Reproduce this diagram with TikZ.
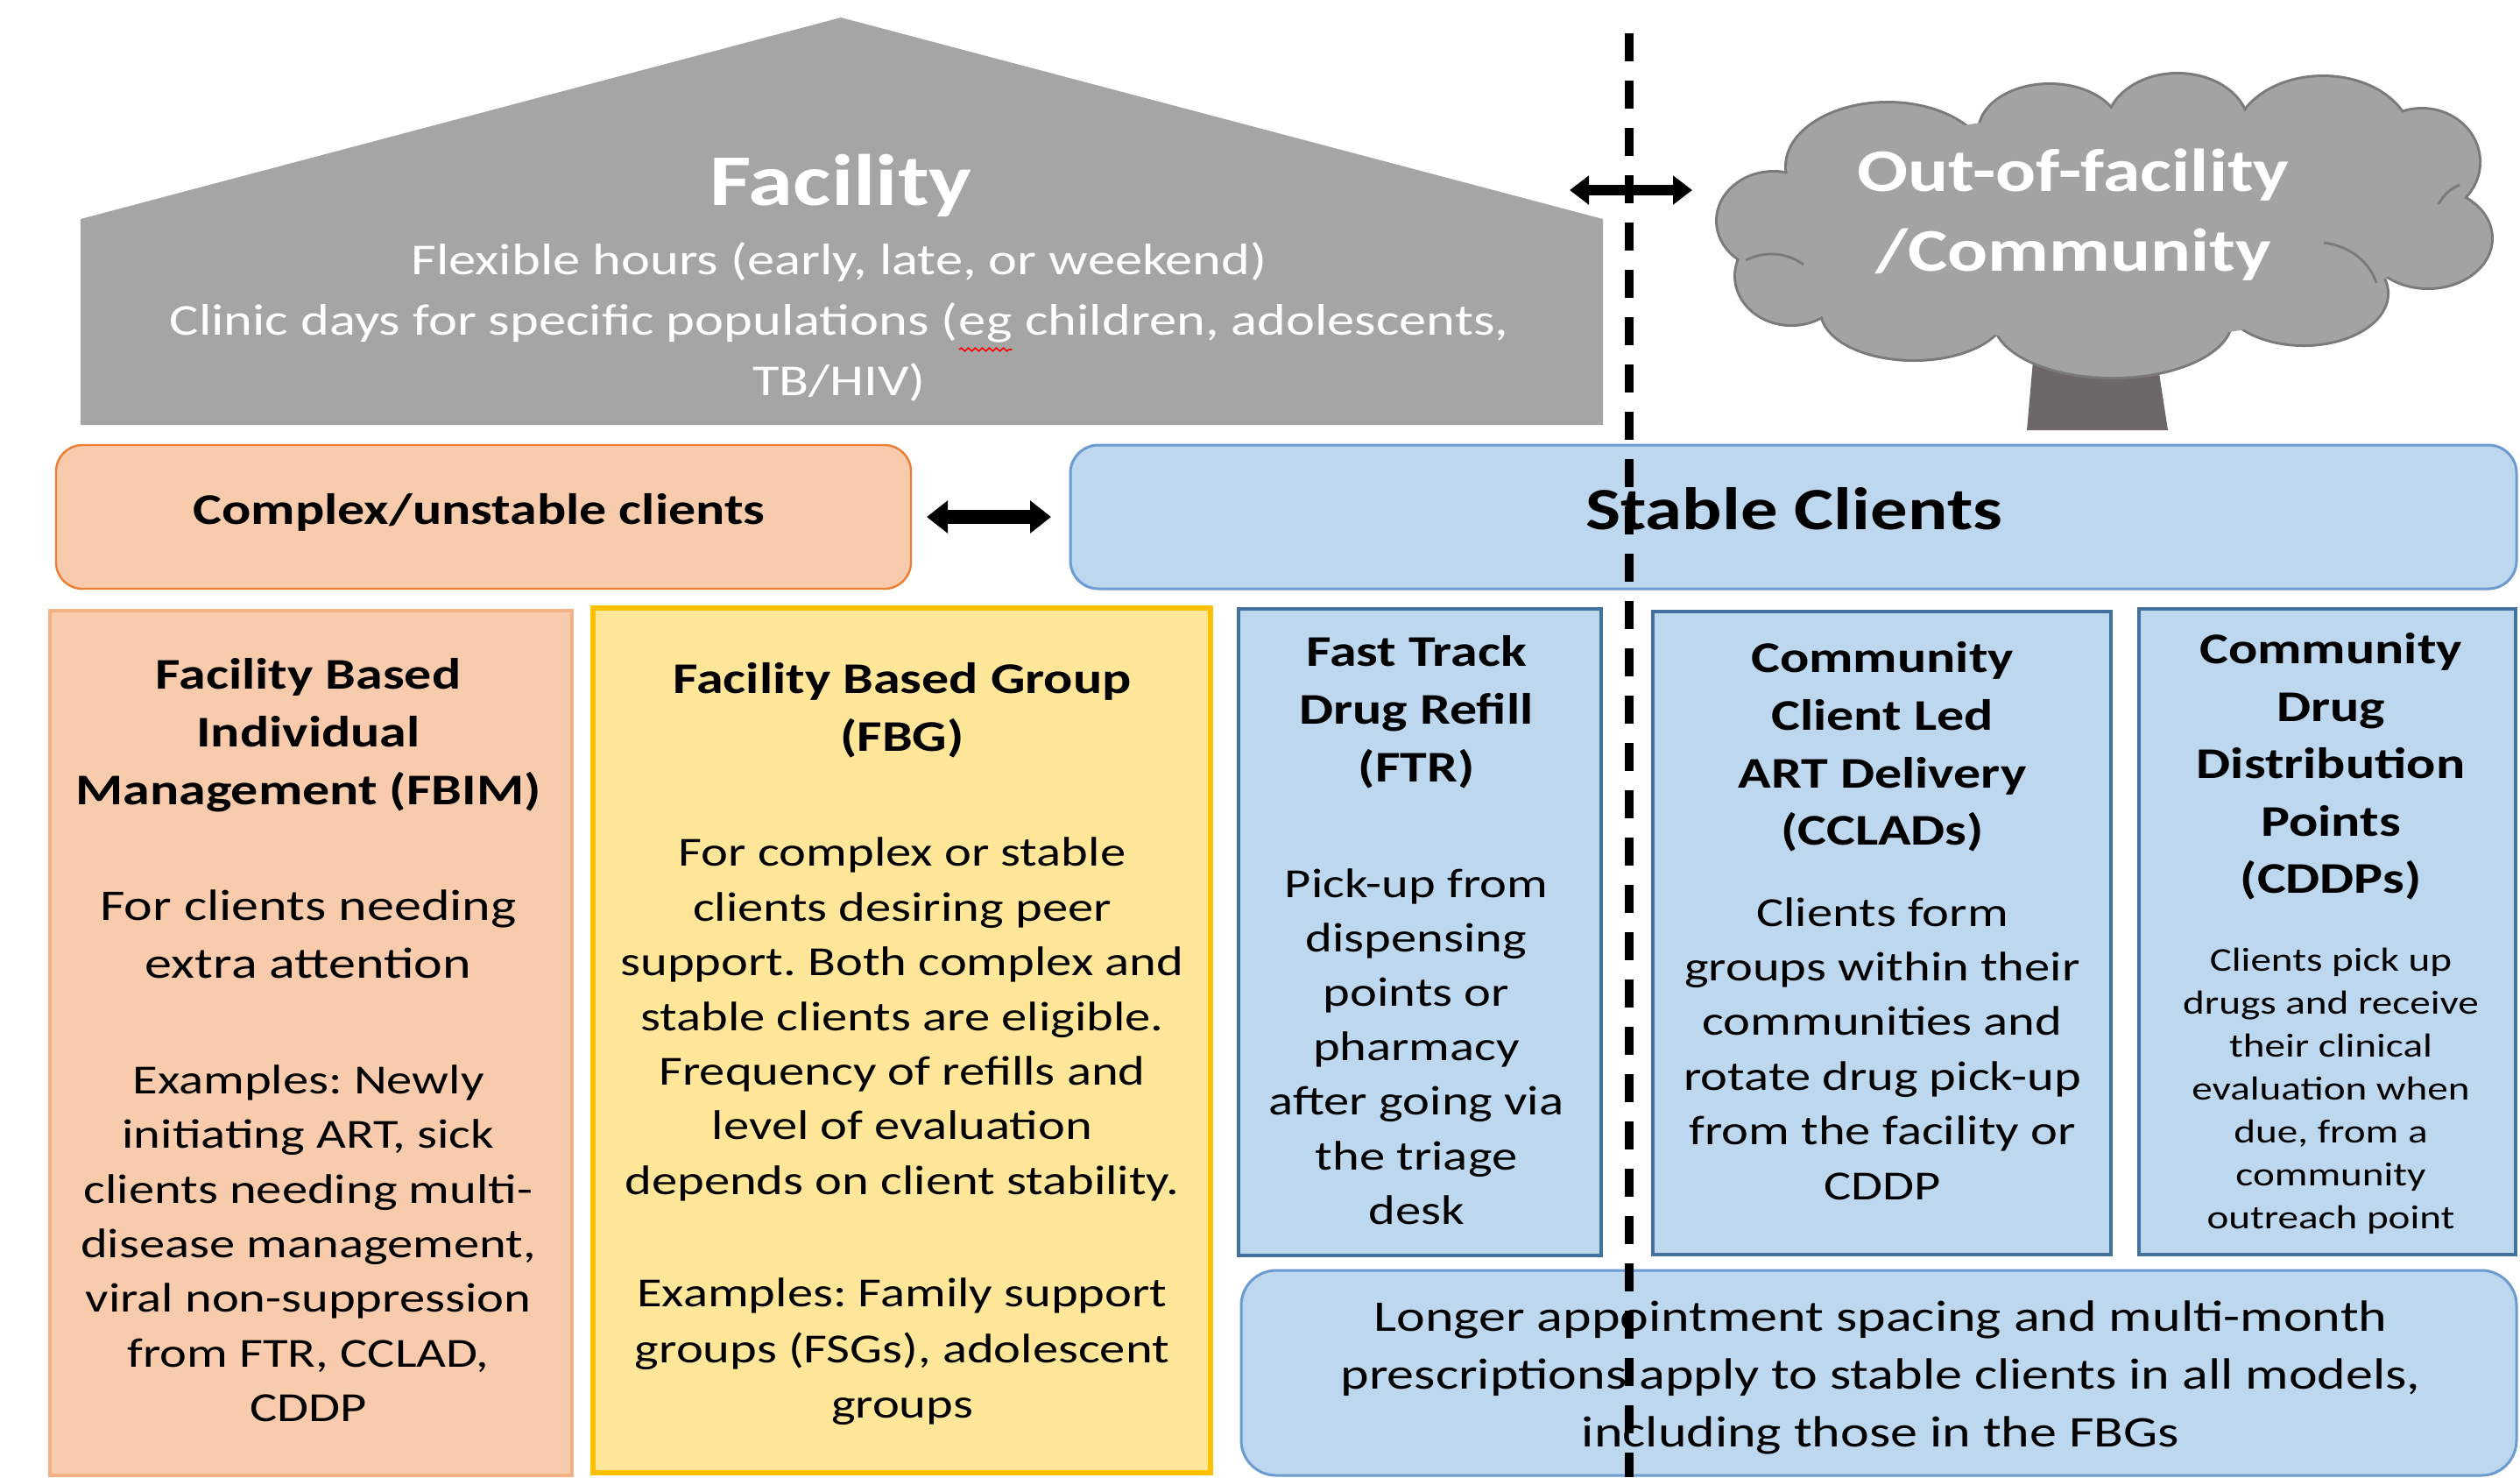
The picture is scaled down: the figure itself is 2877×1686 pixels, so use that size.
\documentclass[tikz,border=0pt]{standalone}
\usepackage{fontspec}
\setmainfont{Carlito}[FakeStretch=1.24]
\usetikzlibrary{arrows.meta,decorations.pathmorphing}

\definecolor{housegray}{HTML}{A5A5A5}
\definecolor{cloudgray}{HTML}{A3A3A3}
\definecolor{cloudedge}{HTML}{7A7A7A}
\definecolor{trunkgray}{HTML}{6E6767}
\definecolor{peach}{HTML}{F8CBAD}
\definecolor{peachedge}{HTML}{F4B183}
\definecolor{orangeedge}{HTML}{ED7D31}
\definecolor{sand}{HTML}{FFE699}
\definecolor{gold}{HTML}{FFC000}
\definecolor{skyfill}{HTML}{BDD7EE}
\definecolor{skyedge}{HTML}{6C9BD2}
\definecolor{navyedge}{HTML}{41719C}

% word marked with a red spelling squiggle
\newcommand\spellflag[1]{\tikz[baseline=(sf.base)]{\node[inner sep=0pt,outer sep=0pt] (sf) {#1};
  \draw[red,line width=0.4pt,decorate,decoration={snake,amplitude=0.45pt,segment length=2pt}]
    ([yshift=-4pt]sf.base west) -- ([yshift=-4pt]sf.base east);}}

% puffs of the community cloud (centre, x radius, y radius)
\newcommand\cloudpuffs{
  (2155,190) ellipse[x radius=115, y radius=72]
  (2340,150) ellipse[x radius=80,  y radius=53]
  (2486,145) ellipse[x radius=80,  y radius=60]
  (2652,160) ellipse[x radius=100, y radius=72]
  (2765,185) ellipse[x radius=65,  y radius=60]
  (2772,272) ellipse[x radius=72,  y radius=56]
  (2630,335) ellipse[x radius=95,  y radius=58]
  (2412,365) ellipse[x radius=135, y radius=65]
  (2185,355) ellipse[x radius=105, y radius=55]
  (2045,315) ellipse[x radius=63,  y radius=55]
  (2025,252) ellipse[x radius=64,  y radius=55]}
\newcommand\cloudcore{(2400,260) ellipse[x radius=360, y radius=130]}

\tikzset{
  box/.style={inner sep=0pt, outer sep=0pt},
  peachround/.style={box, rounded corners=7.5pt, fill=peach, draw=orangeedge, line width=0.6pt},
  skyround/.style={box, rounded corners=8pt, fill=skyfill, draw=skyedge, line width=0.75pt},
  peachcol/.style={box, fill=peach, draw=peachedge, line width=0.9pt},
  sandcol/.style={box, fill=sand, draw=gold, line width=1.3pt},
  skycol/.style={box, fill=skyfill, draw=navyedge, line width=1.2pt},
  textblock/.style={align=center, inner sep=0pt, text=black,
    execute at begin node=\strut, execute at end node=\strut},
  headtext/.style={textblock, font=\fontsize{12.5}{16.5}\selectfont\bfseries},
  leadtext/.style={textblock, font=\fontsize{12.5}{16.5}\selectfont},
  bodytext/.style={textblock, font=\fontsize{11.8}{15.6}\selectfont},
  smalltext/.style={textblock, font=\fontsize{9.5}{12.25}\selectfont},
  whitetext/.style={align=center, inner sep=0pt, text=white},
  twoway/.style={<->, >={Triangle[length=6pt,width=9pt]}, line width=4pt},
  twowaythin/.style={<->, >={Triangle[length=5.5pt,width=8pt]}, line width=3pt},
  divider/.style={line width=2.3pt, dash pattern=on 8pt off 5.5pt},
  puffline/.style={cloudedge, line width=0.7pt}
}

\begin{document}
\frenchspacing
\begin{tikzpicture}[x=0.25pt, y=-0.25pt]
\useasboundingbox (0,0) rectangle (2877,1686);

% ---------- facility house ----------
\fill[housegray] (92,485) -- (92,250) -- (960,20) -- (1830,250) -- (1830,485) -- cycle;
\node[whitetext, font=\fontsize{20.8}{24}\selectfont\bfseries] (factitle) at (960,212) {Facility};
\node[whitetext, font=\fontsize{12.6}{17.25}\selectfont] (facsub) at (958,368)
  {Flexible hours (early, late, or weekend)\\
   Clinic days for specific populations (\spellflag{eg} children, adolescents,\\
   TB/HIV)};

% ---------- community tree ----------
\fill[trunkgray] (2322,400) -- (2461,400) -- (2475,491) -- (2314,491) -- cycle;
\draw[cloudedge, line width=1.5pt] \cloudpuffs;
\fill[cloudgray] \cloudpuffs \cloudcore;
\draw[puffline] (1993,297) .. controls (2015,286) and (2040,288) .. (2059,302);
\draw[puffline] (2653,277) .. controls (2685,281) and (2706,301) .. (2713,323);
\draw[puffline] (2784,233) .. controls (2790,222) and (2798,215) .. (2808,211);
\node[whitetext, font=\fontsize{17.3}{22.75}\selectfont\bfseries] (cloudtxt) at (2367,245.5)
  {Out-of-facility\\/Community};

% ---------- client groups ----------
\node[peachround, minimum width=244pt, minimum height=41pt] (complex) at (552,590) {};
\node[skyround, minimum width=412.75pt, minimum height=41pt] (stable) at (2047.5,590) {};
\node[inner sep=0pt, font=\fontsize{12.5}{16}\selectfont\bfseries] (complextxt) at (547,585) {Complex/unstable clients};
\node[inner sep=0pt, font=\fontsize{17.1}{20}\selectfont\bfseries] (stabletxt) at (2048,581) {Stable Clients};

% ---------- service models ----------
\node[peachcol, minimum width=149pt, minimum height=246.75pt] (fbim) at (355,1190.5) {};
\node[sandcol, minimum width=176.25pt, minimum height=246.75pt] (fbg) at (1029.5,1187.5) {};
\node[skycol, minimum width=103.5pt, minimum height=184.5pt] (ftr) at (1621,1064) {};
\node[skycol, minimum width=130.75pt, minimum height=183.5pt] (cclad) at (2148.5,1065) {};
\node[skycol, minimum width=107.5pt, minimum height=184.25pt] (cddp) at (2657,1063.5) {};
\node[skyround, rounded corners=10pt, minimum width=364pt, minimum height=58.5pt] (spacing) at (2145,1567) {};

% facility based individual management
\node[headtext] (fbimhead) at (352,845) {Facility Based\\Individual\\Management (FBIM)};
\node[leadtext] (fbimlead) at (352,1076) {For clients needing\\extra attention};
\node[bodytext] (fbimex) at (352,1428.5)
  {Examples: Newly\\initiating ART, sick\\clients needing multi-\\disease management,\\
   viral non-suppression\\from FTR, CCLAD,\\CDDP};

% facility based group
\node[headtext] (fbghead) at (1030,817) {Facility Based Group\\(FBG)};
\node[bodytext] (fbgbody) at (1030,1169)
  {For complex or stable\\clients desiring peer\\support. Both complex and\\
   stable clients are eligible.\\Frequency of refills and\\level of evaluation\\
   depends on client stability.};
\node[bodytext, font=\fontsize{11.8}{15.9}\selectfont] (fbgex) at (1030,1548.5)
  {Examples: Family support\\groups (FSGs), adolescent\\groups};

% fast track drug refill
\node[headtext] (ftrhead) at (1617,819) {Fast Track\\Drug Refill\\(FTR)};
\node[bodytext, font=\fontsize{11.8}{15.55}\selectfont] (ftrbody) at (1617,1203.5)
  {Pick-up from\\dispensing\\points or\\pharmacy\\after going via\\the triage\\desk};

% community client led ART delivery
\node[headtext, font=\fontsize{12.5}{16.4}\selectfont\bfseries] (ccladhead) at (2149,858.5)
  {Community\\Client Led\\ART Delivery\\(CCLADs)};
\node[bodytext] (ccladbody) at (2149,1206)
  {Clients form\\groups within their\\communities and\\rotate drug pick-up\\
   from the facility or\\CDDP};

% community drug distribution points
\node[headtext, font=\fontsize{12.5}{16.4}\selectfont\bfseries] (cddphead) at (2661,881)
  {Community\\Drug\\Distribution\\Points\\(CDDPs)};
\node[smalltext] (cddpbody) at (2661,1250)
  {Clients pick up\\drugs and receive\\their clinical\\evaluation when\\due, from a\\
   community\\outreach point};

% shared note for stable clients
\node[leadtext] (spacingtxt) at (2147,1578)
  {Longer appointment spacing and multi-month\\
   prescriptions apply to stable clients in all models,\\
   including those in the FBGs};

% ---------- connectors ----------
\draw[twoway, shorten <=4.5pt, shorten >=5.5pt] (complex.east) -- (stable.west);

\coordinate (divtop) at (1860,38);
\coordinate (divbot) at (1860,1686);
\draw[divider] (divtop) -- (divbot);

\coordinate (roofside) at (1792,217);
\coordinate (cloudside) at (1932,217);
\draw[twowaythin] (roofside) -- (cloudside);
\end{tikzpicture}
\end{document}
